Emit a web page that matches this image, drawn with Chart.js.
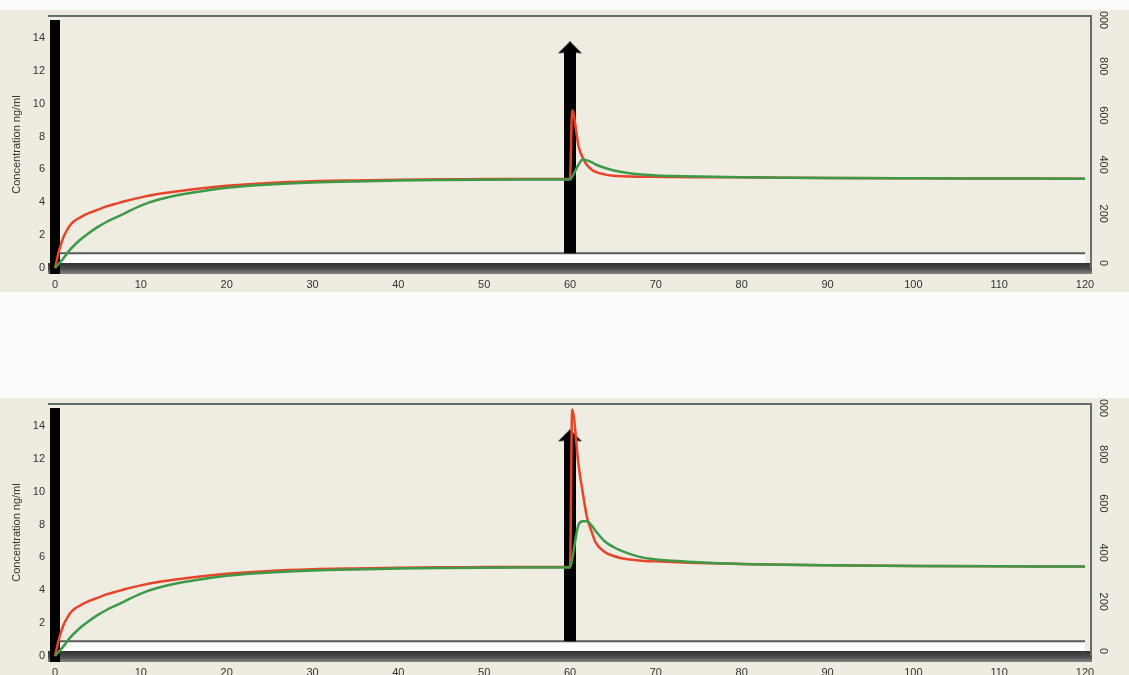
<!DOCTYPE html>
<html><head><meta charset="utf-8">
<script src="https://cdn.jsdelivr.net/npm/chart.js@4"></script>
<style>
html,body{margin:0;padding:0;background:#fbfbfa;width:1129px;height:675px;overflow:hidden;}
.panel{position:absolute;left:0;width:1129px;height:282px;background:#eeebe0;}
#p1{top:10px}
#p2{top:398px}
canvas{display:block}
</style></head><body>
<div class="panel" id="p1"><canvas id="c1" width="1129" height="282"></canvas></div>
<div class="panel" id="p2"><canvas id="c2" width="1129" height="282"></canvas></div>
<script>
// ---- data (time in minutes, concentration ng/ml) ----
const times = [0,0.5,1,1.5,2,3,4,5,6,7,8,10,12,15,18,20,25,30,35,40,45,50,55,60,60.25,61,61.5,62,62.5,63,64,65,66,68,70,72,75,80,85,90,100,110,120];
const redTop = [0,1.1,1.9,2.4,2.75,3.1,3.35,3.55,3.75,3.9,4.05,4.3,4.5,4.72,4.9,5.0,5.18,5.28,5.33,5.37,5.4,5.41,5.42,5.42,
  9.6,7.4,6.7,6.25,6.0,5.85,5.7,5.62,5.58,5.55,5.55,5.54,5.53,5.52,5.5,5.48,5.46,5.45,5.44];
const greenTop = [0,0.3,0.6,0.95,1.25,1.75,2.15,2.5,2.8,3.05,3.3,3.8,4.15,4.5,4.75,4.88,5.08,5.2,5.27,5.32,5.35,5.37,5.38,5.38,
  5.55,6.3,6.6,6.55,6.45,6.3,6.1,5.95,5.85,5.7,5.63,5.6,5.57,5.53,5.5,5.48,5.46,5.45,5.44];
const redBottom = [0,1.1,1.9,2.4,2.75,3.1,3.35,3.55,3.75,3.9,4.05,4.3,4.5,4.72,4.9,5.0,5.18,5.28,5.33,5.37,5.4,5.41,5.42,5.42,
  15.0,11.6,9.9,8.4,7.6,6.9,6.35,6.1,5.95,5.82,5.76,5.72,5.66,5.6,5.55,5.52,5.48,5.46,5.45];
const greenBottom = [0,0.3,0.6,0.95,1.25,1.75,2.15,2.5,2.8,3.05,3.3,3.8,4.15,4.5,4.75,4.88,5.08,5.2,5.27,5.32,5.35,5.37,5.38,5.38,
  5.9,8.0,8.2,8.2,7.95,7.6,7.0,6.65,6.4,6.05,5.88,5.8,5.7,5.6,5.55,5.52,5.48,5.46,5.45];

const xTicks = [0,10,20,30,40,50,60,70,80,90,100,110,120];
const yTicks = [0,2,4,6,8,10,12,14];
const y2Ticks = [0,200,400,600,800,1000];

const bolusTime = 0;            // initial bolus (wall at t=0)
const bolusSpan = [-0.4, 15.1];
const doseTime = 60;            // second dose arrow
const doseSpan = [0.9, 13.2];
const doseHead = 13.4;
const infusionTimes = [0, 120]; // continuous infusion (right axis)
const infusionRate = [40, 40];

const yTitle = 'Concentration ng/ml';

// ---- arrow head style ----
const head = document.createElement('canvas');
head.width = 24; head.height = 13;
(function(){
  const c = head.getContext('2d');
  c.fillStyle = '#000';
  c.beginPath(); c.moveTo(12,0); c.lineTo(24,12); c.lineTo(15,11); c.lineTo(9,11); c.lineTo(0,12); c.closePath(); c.fill();
})();

const FONT = '"Liberation Sans", Arial, sans-serif';
const noPad = ax => { ax.paddingTop = 0; ax.paddingBottom = 0; ax.paddingLeft = 0; ax.paddingRight = 0; };

const decor = {
  id: 'decor',
  beforeDatasetsDraw(chart) {
    const {ctx, chartArea: a, scales} = chart;
    ctx.save();
    ctx.fillStyle = '#efece1';
    ctx.fillRect(a.left, a.top, a.right - a.left, a.bottom - a.top);
    const y0 = scales.y2.getPixelForValue(0);
    const g = ctx.createLinearGradient(0, y0, 0, a.bottom);
    g.addColorStop(0, '#333'); g.addColorStop(0.5, '#4a4a4a'); g.addColorStop(1, '#858585');
    ctx.fillStyle = g;
    ctx.fillRect(a.left, y0, a.right - a.left, a.bottom - y0);
    ctx.restore();
  },
  afterDatasetsDraw(chart) {
    const {ctx, chartArea: a} = chart;
    ctx.save();
    ctx.strokeStyle = '#6a6a6a';
    ctx.lineWidth = 2;
    ctx.beginPath();
    ctx.moveTo(a.left, a.top + 1); ctx.lineTo(a.right - 1, a.top + 1); ctx.lineTo(a.right - 1, a.bottom - 6);
    ctx.stroke();
    ctx.restore();
  },
  afterDraw(chart) {
    const {ctx} = chart;
    const s = chart.scales.y2;
    ctx.save();
    ctx.font = '11px ' + FONT;
    ctx.fillStyle = '#333';
    ctx.textAlign = 'center';
    ctx.textBaseline = 'middle';
    y2Ticks.forEach(v => {
      const y = s.getPixelForValue(v);
      ctx.save();
      ctx.translate(s.left + 11, y);
      ctx.rotate(Math.PI / 2);
      ctx.fillText(String(v), 0, 0);
      ctx.restore();
    });
    ctx.restore();
  }
};

function build(id, red, green) {
  const pts = arr => times.map((t, i) => ({x: t, y: arr[i]}));
  return new Chart(document.getElementById(id), {
    type: 'line',
    data: {
      datasets: [
        {label: 'green', data: pts(green), borderColor: '#3d9a49', borderWidth: 2.5, pointRadius: 0, cubicInterpolationMode: 'monotone', order: 0},
        {label: 'red', data: pts(red), borderColor: '#e8442b', borderWidth: 2.5, pointRadius: 0, cubicInterpolationMode: 'monotone', order: 1},
        {label: 'doseHead', data: [{x: doseTime, y: doseHead}], showLine: false, pointStyle: head, pointRadius: 12, pointBorderWidth: 0, order: 2},
        {label: 'dose', data: doseSpan.map(v => ({x: doseTime, y: v})), borderColor: '#000', borderWidth: 12, borderCapStyle: 'butt', pointRadius: 0, order: 3},
        {label: 'bolus', data: bolusSpan.map(v => ({x: bolusTime, y: v})), borderColor: '#000', borderWidth: 10, borderCapStyle: 'butt', pointRadius: 0, order: 4},
        {label: 'infusion', yAxisID: 'y2', data: infusionTimes.map((t, i) => ({x: t, y: infusionRate[i]})), borderColor: '#5a5a5a', borderWidth: 2, backgroundColor: '#fdfdfd', fill: 'origin', pointRadius: 0, order: 5}
      ]
    },
    options: {
      responsive: false,
      animation: false,
      events: [],
      layout: {autoPadding: false, padding: {top: 5, left: 0, right: 0, bottom: 0}},
      plugins: {legend: {display: false}, tooltip: {enabled: false}},
      scales: {
        x: {
          type: 'linear', min: -0.816, max: 120.816,
          afterBuildTicks: ax => { ax.ticks = xTicks.map(v => ({value: v})); },
          afterFit: ax => { ax.height = 18; noPad(ax); },
          grid: {display: false, drawTicks: false},
          border: {display: false},
          ticks: {font: {size: 11, family: FONT}, color: '#333', padding: 4, autoSkip: false, maxRotation: 0}
        },
        y: {
          position: 'left', min: -0.365, max: 15.40,
          afterBuildTicks: ax => { ax.ticks = yTicks.map(v => ({value: v})); },
          afterFit: ax => { ax.width = 48; noPad(ax); },
          grid: {display: false, drawTicks: false},
          border: {display: false},
          ticks: {font: {size: 11, family: FONT}, color: '#333', padding: 3},
          title: {display: true, text: yTitle, font: {size: 11, family: FONT}, color: '#333', padding: {top: 10, bottom: 0}}
        },
        y2: {
          position: 'right', min: -44.7, max: 1008.1,
          afterBuildTicks: ax => { ax.ticks = y2Ticks.map(v => ({value: v})); },
          afterFit: ax => { ax.width = 37; noPad(ax); },
          grid: {display: false, drawTicks: false},
          border: {display: false},
          ticks: {display: false}
        }
      }
    },
    plugins: [decor]
  });
}
build('c1', redTop, greenTop);
build('c2', redBottom, greenBottom);
</script>
</body></html>
